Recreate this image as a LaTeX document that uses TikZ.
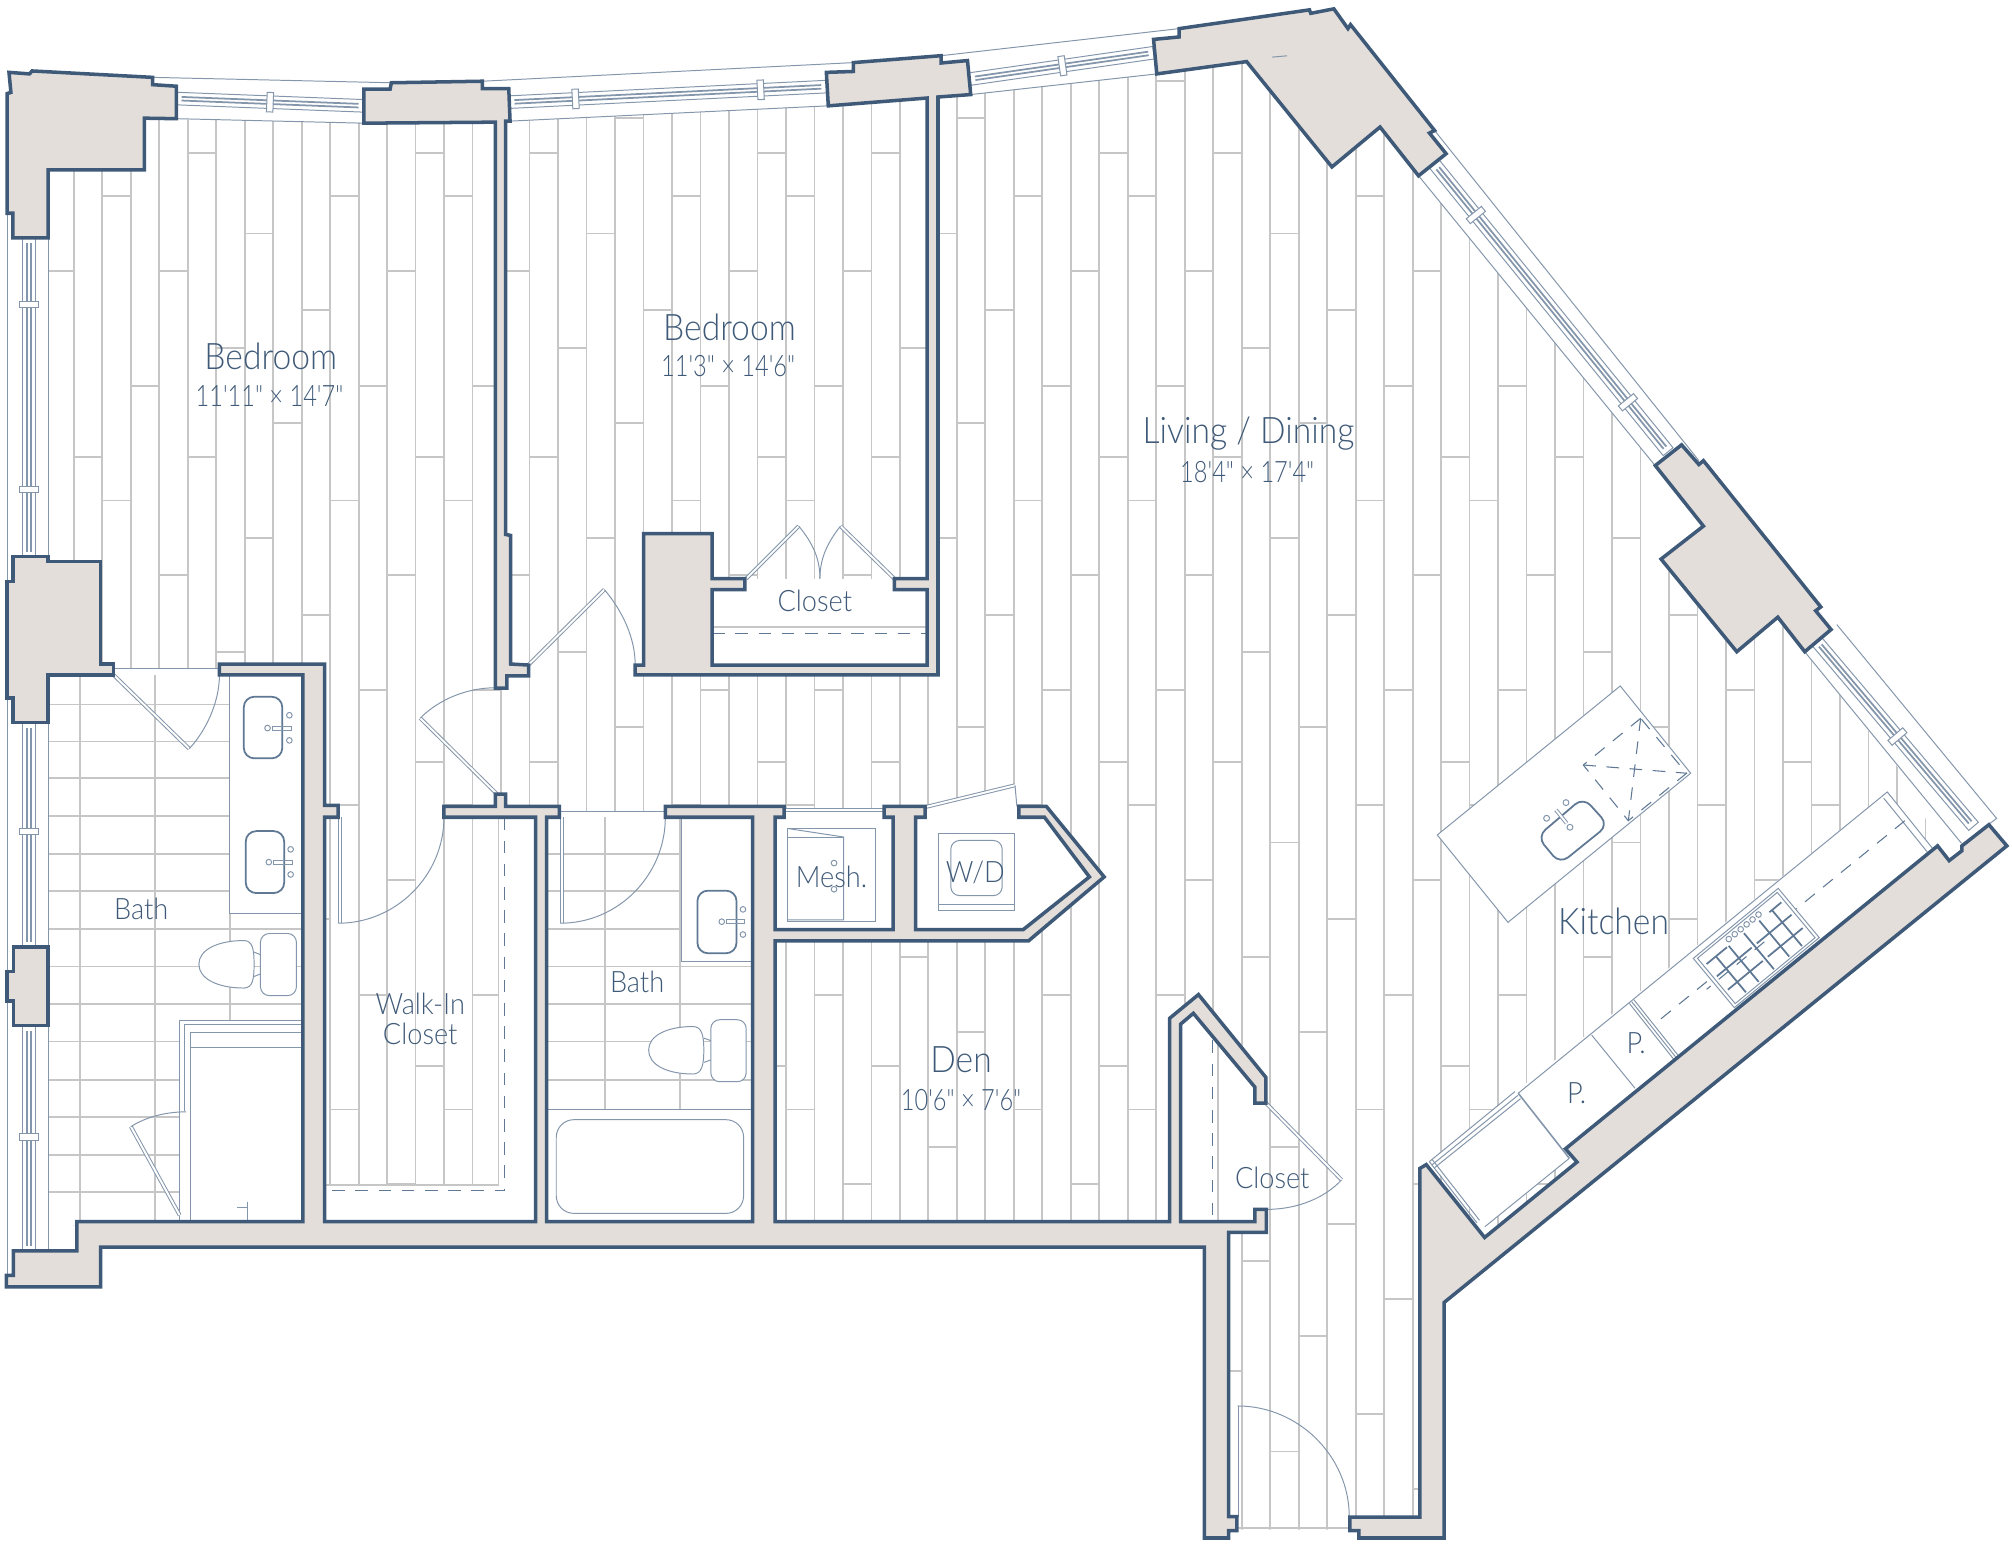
\documentclass[tikz,border=0pt]{standalone}
\usepackage{fontspec}
\usepackage{tikz}
\newfontfamily\planfont[FakeStretch=0.92]{Lato Light}
\newfontfamily\dimfont[FakeStretch=0.8]{Lato Light}
\definecolor{wallblue}{HTML}{3F5A78}
\definecolor{wallfill}{HTML}{E3DEDA}
\definecolor{fixline}{HTML}{8496AB}
\definecolor{fixdark}{HTML}{5F7894}
\definecolor{plank}{HTML}{C6C6C6}
\tikzset{
	wallpoly/.style={draw=wallblue,fill=wallfill,line width=1pt,line join=miter},
	thinline/.style={draw=fixline,line width=.28pt},
	darkline/.style={draw=fixdark,line width=.5pt},
	leaf/.style={draw=fixline,line width=.28pt,double=white,double distance=.55pt},
	planksty/.style={draw=plank,line width=.5pt},
	dashline/.style={draw=fixdark,line width=.3pt,dash pattern=on 3.6pt off 3pt},
	roomlabel/.style={text=wallblue,inner sep=0pt,font=\planfont\fontsize{10.4}{12}\selectfont},
	dimlabel/.style={text=wallblue,inner sep=0pt,font=\dimfont\fontsize{8.4}{10}\selectfont},
	smalllabel/.style={text=wallblue,inner sep=0pt,font=\planfont\fontsize{8.4}{8.4}\selectfont},
}
\newcommand{\windowrun}[5]{%
	\pgfmathsetmacro\wlen{veclen(#3-#1,#4-#2)}
	\pgfmathsetmacro\wang{atan2(#2-#4,#3-#1)}
	\begin{scope}[shift={(#1,#2)},rotate=\wang]
		\draw[thinline] (0,-4.9) rectangle (\wlen,4.9);
		\draw[draw=fixline,line width=.5pt] (4,-1.4) -- (\wlen-4,-1.4) (4,1.4) -- (\wlen-4,1.4);
		\foreach \s in {#5} {
			\filldraw[thinline,fill=white] (\s-2.5,-7.6) rectangle (\s+2.5,7.6);
		}
	\end{scope}
}
\begin{document}
\begin{tikzpicture}[x=0.012832cm,y=-0.012832cm]
	\useasboundingbox (0,0) rectangle (1568,1203.2);

	% planks
	\begin{scope}
		\clip (37.7,130) -- (112.5,130) -- (112.5,92) -- (139,93) -- (283,95.6) -- (397.5,94.4) -- (645,82.5) -- (756.5,73.7) -- (901.5,57.6) -- (971.5,48) -- (1038,130) -- (1075.5,99) -- (1105.5,137) -- (1290,363) -- (1294.5,435.7) -- (1353.5,507.9) -- (1385.5,481) -- (1406.5,508) -- (1487,607.9) -- (1510,659) -- (1229,905.6) -- (1157,964) -- (1106,908) -- (1106.5,1192) -- (957.5,1192) -- (957.5,955) -- (37.7,955) -- cycle;
		\foreach \c in {-1,...,65} {
			\pgfmathsetmacro\px{57.5+22.2*\c}
			\pgfmathsetmacro\po{{119,152.8,63.3,211.1,119,33.7,182,92.1,4.5,152.8,63.3,211.1}[int(mod(\c+12,12))]}
			\draw[planksty] (\px,0) -- (\px,1203);
			\foreach \r in {0,...,5} {
				\draw[planksty] (\px,\po+237.3*\r) -- (\px+22.2,\po+237.3*\r);
			}
		}
	\end{scope}

	% rooms without planks
	\fill[white] (37.7,521.3) rectangle (236,955);
	\fill[white] (426,632.5) rectangle (586.5,955);
	\fill[white] (604,630) rectangle (696,724.4);
	\fill[white] (713.5,636.9) -- (814,636.9) -- (849,683.4) -- (797.5,724.4) -- (713.5,724.4) -- cycle;
	\fill[white] (721,628.5) -- (791,612) -- (794,637) -- (721,637) -- cycle;
	\fill[white] (555,451) rectangle (722.5,518.3);
	\fill[white] (388.5,637) rectangle (417.5,952);
	\fill[white] (253,923.5) rectangle (417.5,952);
	\fill[white] (920,798) -- (930,790) -- (986.5,859.6) -- (987,952) -- (920,952) -- cycle;
	\fill[white] (1113.9,905.3) -- (1470.8,617.2) -- (1506,661) -- (1220,895) -- (1223,902.7) -- (1157.2,956) -- cycle;

	% tile
	\foreach \yy in {549,577.8,606.6,635.8,665.3,694.5,724.1,753.2,782.4,811.6,841.5,870.3,899.9,929.1} {
		\draw[planksty] (37.7,\yy) -- (236,\yy);
	}
	\foreach \xx in {62.5,121,179} {
		\draw[planksty] (\xx,526) -- (\xx,952);
	}
	\foreach \yy in {665.3,694.5,724.1,753.2,782.4,811.6,841.5} {
		\draw[planksty] (426,\yy) -- (586.5,\yy);
	}
	\foreach \xx in {471.5,530} {
		\draw[planksty] (\xx,637) -- (\xx,864.6);
	}

	% windows
	\draw[thinline] (5.7,166) -- (5.7,994) (37.7,185) -- (37.7,975);
	\draw[thinline] (119,60.3) -- (305,64.5) (137.5,92.5) -- (283.5,96);
	\draw[thinline] (376,63.3) -- (665,48.8) (397.5,94.4) -- (645,82.5);
	\draw[thinline] (733.5,43.4) -- (919,22.3) (756.5,73.7) -- (901.5,57.6);
	\draw[thinline] (1118,101.7) -- (1324,359) (1105.5,137) -- (1290,363);
	\draw[thinline] (1431.5,486.8) -- (1556,637.8) -- (1540,650) (1406.5,508) -- (1528.7,657.3);
	\windowrun{22.6}{185.4}{22.6}{433.8}{52.1,196.3}
	\windowrun{22.6}{563.2}{22.6}{737.9}{84.8}
	\windowrun{22.6}{799.3}{22.6}{975}{86.7}
	\windowrun{137.5}{76.8}{283.5}{82.5}{73}
	\windowrun{397}{79.6}{644}{67.5}{51.6,196}
	\windowrun{756}{61.6}{899}{41.1}{72.7}
	\windowrun{1118}{128}{1300}{352}{51,239}
	\windowrun{1416}{500}{1538}{644}{97}

	% bath by the bedroom
	\filldraw[thinline,fill=white] (179,526) -- (179,711.8) -- (236,711.8) -- (236,526) -- cycle;
	\draw[darkline,rounded corners=3pt] (190,543) rectangle (220,591);
	\draw[darkline,rounded corners=3pt] (191.5,647.7) rectangle (221.5,696);
	\draw[thinline] (225.5,557.4) circle (2.2) (225.5,577) circle (2.2) (208.5,567.4) circle (2.2);
	\draw[thinline] (212,566) rectangle (227,569);
	\draw[thinline] (226.5,661.9) circle (2.2) (226.5,681.5) circle (2.2) (209.5,671.9) circle (2.2);
	\draw[thinline] (213,670.5) rectangle (228,673.5);
	\filldraw[thinline,fill=white,rounded corners=2.5pt] (203,727.5) rectangle (231,775.9);
	\filldraw[thinline,fill=white] (155,751.4) .. controls (155,740) and (170,733) .. (190,733) .. controls (197,733) and (198,740) .. (198,751.4) .. controls (198,763) and (197,770) .. (190,770) .. controls (170,770) and (155,763) .. (155,751.4) -- cycle;
	\draw[thinline] (198,742) -- (203,744) (198,761) -- (203,759);
	\fill[white] (140,795.5) rectangle (236,952);
	\draw[thinline] (140,952) -- (140,795.5) -- (236,795.5);
	\draw[thinline] (143.5,866) -- (143.5,798.2) -- (236,798.2);
	\draw[thinline] (148.5,952) -- (148.5,805) -- (236,805);
	\draw[thinline] (148.5,816.6) -- (236,816.6);
	\draw[leaf] (102,878) -- (140,947);
	\draw[thinline] (102,878) .. controls (113,871) and (128,866.5) .. (145,866.5);
	\draw[thinline] (192.5,936.4) -- (192.5,951) (185,941.4) -- (192.5,941.4);
	\draw[thinline] (88.5,521.3) -- (171,521.3);
	\draw[leaf] (88.5,526) -- (147.5,583.5);
	\draw[thinline] (147.5,583.5) .. controls (160,570) and (171,548) .. (171,526);

	% bedroom doors and closet
	\draw[leaf] (412,518) -- (471,459.5);
	\draw[thinline] (471,459.5) .. controls (485,476) and (495,497) .. (495,518);
	\draw[leaf] (387.5,619) -- (327.5,559.7);
	\draw[thinline] (327.5,559.7) .. controls (342,545) and (364,536) .. (386,536);
	\draw[leaf] (581.5,451) -- (622.5,410);
	\draw[leaf] (697,451) -- (655,410);
	\draw[thinline] (622.5,410) .. controls (634,424) and (639,436) .. (639,451);
	\draw[thinline] (655,410) .. controls (644,424) and (639,436) .. (639,451);
	\draw[planksty] (555,488.7) -- (722.5,488.7);
	\draw[dashline] (555,494) -- (722.5,494);

	% walk-in closet
	\draw[leaf] (265,636.9) -- (265,719.5);
	\draw[thinline] (263.5,719.5) .. controls (309,719.5) and (346,682) .. (346,636.9);
	\draw[planksty] (253,923.5) -- (388.5,923.5) -- (388.5,637);
	\draw[dashline] (393.5,637) -- (393.5,928) -- (253,928);

	% second bath
	\draw[thinline] (436,632.5) -- (518.5,632.5);
	\draw[leaf] (438,637) -- (438,719.5);
	\draw[thinline] (436.5,719.5) .. controls (482,719.5) and (518.5,682) .. (518.5,637);
	\filldraw[thinline,fill=white] (531,637) -- (531,749) -- (586.5,749) -- (586.5,637) -- cycle;
	\draw[darkline,rounded corners=3pt] (543.5,694.1) rectangle (574,742.9);
	\draw[thinline] (579,708.7) circle (2.2) (579,728.3) circle (2.2) (562.5,718.3) circle (2.2);
	\draw[thinline] (566,716.8) rectangle (580.5,719.8);
	\filldraw[thinline,fill=white,rounded corners=2.5pt] (554,794.7) rectangle (581.5,843);
	\filldraw[thinline,fill=white] (505.5,818.3) .. controls (505.5,807) and (520,800) .. (540,800) .. controls (547,800) and (548.5,807) .. (548.5,818.3) .. controls (548.5,830) and (547,837) .. (540,837) .. controls (520,837) and (505.5,830) .. (505.5,818.3) -- cycle;
	\draw[thinline] (548.5,809) -- (554,811) (548.5,828) -- (554,826);
	\fill[white] (426,864.6) rectangle (586.5,952);
	\draw[thinline] (426,864.6) -- (586.5,864.6);
	\draw[thinline,rounded corners=5pt] (433.5,872.6) rectangle (579.5,945.6);

	% mesh and w/d closets
	\draw[thinline] (611,629.8) -- (689,629.8) (611,632.6) -- (689,632.6);
	\draw[thinline] (614,645.7) rectangle (682.5,718.3);
	\draw[thinline] (614,645.7) -- (657.5,652.3) -- (657.5,716.8) -- (614,716.8);
	\draw[thinline] (614,652.3) -- (657.5,652.3);
	\draw[thinline] (650,672.6) circle (2.2) (650,693) circle (2.2);
	\draw[thinline] (731.5,649.6) rectangle (791,709.9);
	\draw[thinline] (731.5,705) -- (791,705);
	\draw[thinline,rounded corners=2.5pt] (741,655) rectangle (781,698);
	\draw[leaf] (721,629) -- (791,612);
	\draw[thinline] (791,612) -- (792.5,628.5);

	% entry closet and front door
	\draw[planksty] (949.5,809) -- (949.5,952);
	\draw[dashline] (945,810.8) -- (945,952);
	\draw[leaf] (986.5,859.6) -- (1045.5,919.5);
	\draw[thinline] (1045.5,919.5) .. controls (1033,933) and (1012,942.5) .. (987,942.5);
	\draw[leaf] (966,1095.7) -- (966,1182);
	\draw[thinline] (964.5,1095.7) .. controls (1012,1095.7) and (1051.5,1135) .. (1051.5,1182);
	\draw[planksty] (964,1191) -- (1052,1191);

	% kitchen
	\filldraw[thinline,fill=white] (1262.7,534.6) -- (1317.6,602.6) -- (1175.2,718.8) -- (1120.1,650.7) -- cycle;
	\draw[dashline] (1278.6,559.8) -- (1233.9,596.2) -- (1269,639.6) -- (1314.4,602.6) -- cycle;
	\draw[dashline] (1233.9,596.2) -- (1314.4,602.6) (1278.6,559.8) -- (1269,639.6);
	\draw[darkline,rounded corners=3pt] (1233.9,621.4) -- (1253.4,642.9) -- (1215.7,673.3) -- (1198,652) -- cycle;
	\draw[thinline] (1205.3,637.7) circle (2.3) (1220.4,625.5) circle (2.3) (1223.5,644.7) circle (2.3);
	\draw[leaf] (1212.6,631.2) -- (1220.9,641.6);
	\draw[thinline] (1183.2,852) -- (1470.8,617.2) -- (1506.1,661.2);
	\draw[thinline] (1468,622) -- (1502,664);
	\draw[dashline] (1484.5,639.6) -- (1288.4,798.9);
	\draw[thinline] (1240.4,806.6) -- (1274.2,848.1);
	\draw[thinline] (1271.6,780.6) -- (1306.1,824) (1273.4,779.2) -- (1307.9,822.6) (1269.8,782) -- (1304.3,825.4);
	\draw[thinline] (1180.6,850.7) -- (1113.9,905.3) (1183,853.6) -- (1116,907.8) (1185,856.2) -- (1118,910);
	\draw[draw=fixline,line width=.45pt] (1183.2,852) -- (1223,902.7);
	\draw[thinline] (1223,902.7) -- (1157.2,956) (1113.9,905.3) -- (1151,953) (1116,903.5) -- (1153,951);
	\begin{scope}[shift={(1319.6,746.9)},x={(.8495cm,.7006cm)},y={(.4106cm,-.4928cm)}]
		\filldraw[thinline,fill=white] (0,0) -- (1,0) -- (1,1) -- (0,1) -- cycle;
		\draw[thinline] (.03,.04) -- (.97,.04) -- (.97,.96) -- (.03,.96) -- cycle;
		\foreach \u in {.17,.32,.5,.68,.83} {
			\draw[darkline] (\u,.2) -- (\u,.93);
		}
		\foreach \v in {.45,.72} {
			\draw[darkline] (.06,\v) -- (.47,\v) (.53,\v) -- (.94,\v);
		}
		\draw[darkline] (.06,.2) -- (.3,.2) (.8,.2) -- (.94,.2);
		\foreach \u in {.36,.43,.5,.57,.64,.71} {
			\draw[thinline] (\u,.12) circle (.8pt);
		}
	\end{scope}
	\draw[dashline] (1375,734) -- (1330,771);

	% walls
	\draw[wallpoly] (7,56.4) -- (23,57.6) -- (25,55.3) -- (119,60.3) -- (119,66) -- (137.5,67.2) -- (137.5,92.5) -- (112.5,92.1) -- (112.5,132.4) -- (37.5,132.4) -- (37.5,185.4) -- (10,185.4) -- (10,166.2) -- (5.5,166.2) -- (5.5,73) -- (8.5,72) -- cycle;
	\draw[wallpoly] (283.5,69.5) -- (304,69.5) -- (305,64.5) -- (376,63.3) -- (376,69.1) -- (396.5,69.1) -- (397.5,94.4) -- (394,94.4) -- (394,416.5) -- (398,417.3) -- (398,517.5) -- (412,518.3) -- (412,526.7) -- (395,526.7) -- (395,536.3) -- (386,536.3) -- (386,95.2) -- (283.5,96) -- cycle;
	\draw[wallpoly] (644,56.4) -- (665,55.7) -- (665,48.8) -- (733.5,43.4) -- (733.5,49.1) -- (754,47.2) -- (756.5,73.7) -- (731,75.6) -- (731,526) -- (495,526) -- (495,518.3) -- (501.5,518.3) -- (501.5,415.8) -- (555,415.8) -- (555,451) -- (580.5,451) -- (580.5,459.6) -- (555,459.6) -- (555,518.3) -- (722.5,518.3) -- (722.5,459.6) -- (697,459.6) -- (697,451) -- (722.5,451) -- (722.5,76.4) -- (645.5,82.5) -- cycle;
	\draw[wallpoly] (899,30.7) -- (919,28.8) -- (919,22.3) -- (1020.5,7.7) -- (1021.5,10.4) -- (1039.5,6.9) -- (1050.5,22.3) -- (1052.5,19.2) -- (1118,101.7) -- (1114,103.7) -- (1127,119.8) -- (1105.5,137) -- (1075.5,99) -- (1038,130.1) -- (971.5,48) -- (901.5,57.6) -- cycle;
	\draw[thinline] (991.5,44.5) -- (1003,43.5);
	\draw[wallpoly] (1290,362.8) -- (1310.5,346.7) -- (1324,362) -- (1327.5,359) -- (1419,473) -- (1415,476) -- (1427,490.6) -- (1406.5,507.9) -- (1385.5,481) -- (1353.5,507.9) -- (1294.5,435.7) -- (1327.5,410) -- cycle;
	\draw[wallpoly] (10,433.8) -- (37.5,433.8) -- (37.5,437.7) -- (78.5,437.7) -- (78.5,517.5) -- (88.5,517.5) -- (88.5,526) -- (37.5,526) -- (37.5,563.2) -- (10,563.2) -- (10,544) -- (5.5,544) -- (5.5,453) -- (10,453) -- cycle;
	\draw[wallpoly] (10.5,737.9) -- (37.5,737.9) -- (37.5,799.3) -- (10.5,799.3) -- (10.5,780.1) -- (5.5,780.1) -- (5.5,757) -- (10.5,757) -- cycle;
	\draw[wallpoly] (171,517.5) -- (253,517.5) -- (253,627.7) -- (263.5,627.7) -- (263.5,636.9) -- (253,636.9) -- (253,952.1) -- (417.5,952.1) -- (417.5,636.9) -- (346,636.9) -- (346,628.5) -- (386,628.5) -- (386,618.9) -- (394,618.9) -- (394,628.5) -- (436,628.5) -- (436,636.9) -- (426,636.9) -- (426,952.1) -- (586.5,952.1) -- (586.5,636.9) -- (518.5,636.9) -- (518.5,628.5) -- (611,628.5) -- (611,636.9) -- (604,636.9) -- (604,724.4) -- (696,724.4) -- (696,636.9) -- (689,636.9) -- (689,628.5) -- (721,628.5) -- (721,636.9) -- (713.5,636.9) -- (713.5,724.4) -- (797.5,724.4) -- (849,683.4) -- (814,636.9) -- (794,636.9) -- (794,628.5) -- (815.5,628.5) -- (860.5,683.4) -- (801.5,733.3) -- (604,733.3) -- (604,952.1) -- (911.5,952.1) -- (911.5,793.6) -- (934,775.1) -- (986.5,839.6) -- (986.5,859.6) -- (978,859.6) -- (978,847.3) -- (930,789.7) -- (920,798.2) -- (920,952.1) -- (978,952.1) -- (978,942.5) -- (987,942.5) -- (987,960.5) -- (957.5,960.5) -- (957.5,1182) -- (964,1182) -- (964,1192.8) -- (957.5,1192.8) -- (957.5,1198.6) -- (938.5,1198.6) -- (938.5,972) -- (78.5,972) -- (78.5,1002.8) -- (5,1002.8) -- (5,994) -- (10.5,994) -- (10.5,974.8) -- (60,974.8) -- (60,952.1) -- (236,952.1) -- (236,526) -- (171,526) -- cycle;
	\draw[wallpoly] (1550,642.7) -- (1564,659.2) -- (1125.5,1015) -- (1125.5,1198.6) -- (1059,1198.6) -- (1059,1192.8) -- (1052,1192.8) -- (1052,1182.4) -- (1106.5,1182.4) -- (1106.5,910.6) -- (1111.5,907.6) -- (1157,964.4) -- (1229,905.6) -- (1220,895.3) -- (1510,659.2) -- (1519,670.7) -- (1529,663) -- (1529,659.2) -- cycle;

	% labels
	\node[roomlabel] (bedroomone) at (211,278) {Bedroom};
	\node[dimlabel] (bedroomonedim) at (210,308.5) {11'11" × 14'7"};
	\node[roomlabel] (bedroomtwo) at (568.5,255) {Bedroom};
	\node[dimlabel] (bedroomtwodim) at (567.5,285.5) {11'3" × 14'6"};
	\node[smalllabel] (closetbed) at (635,468.5) {Closet};
	\node[roomlabel] (living) at (973,338) {Living / Dining};
	\node[dimlabel] (livingdim) at (972,367.5) {18'4" × 17'4"};
	\node[smalllabel] (bathone) at (110,708) {Bath};
	\node[smalllabel] (bathtwo) at (496.5,765) {Bath};
	\node[smalllabel,align=center] (walkin) at (327.5,794) {Walk-In\\Closet};
	\node[smalllabel] (mesh) at (648,683.5) {Mesh.};
	\node[smalllabel] (wd) at (760,679.5) {W/D};
	\node[roomlabel] (den) at (749,825.5) {Den};
	\node[dimlabel] (dendim) at (749,857) {10'6" × 7'6"};
	\node[smalllabel] (closetentry) at (991.5,918) {Closet};
	\node[roomlabel] (kitchen) at (1257.5,718) {Kitchen};
	\node[smalllabel] (pantryone) at (1228.7,852) {P.};
	\node[smalllabel] (pantrytwo) at (1275,813) {P.};
\end{tikzpicture}
\end{document}
